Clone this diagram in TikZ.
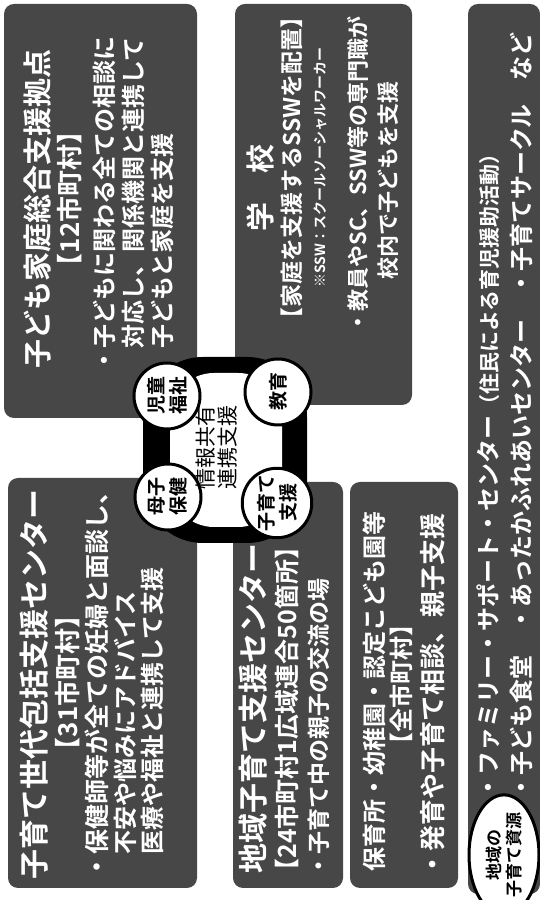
\documentclass[tikz,border=0pt]{standalone}
\usepackage{fontspec}
\usetikzlibrary{shapes.geometric}
\setmainfont{Noto Sans CJK JP}[BoldFont={Noto Sans CJK JP Bold}]
\tikzset{
  panel/.style={fill=black!72, rounded corners=5pt},
  boxtitle/.style={text=white, font=\bfseries\fontsize{14.5}{16}\selectfont, inner sep=0pt},
  boxnote/.style={text=white, font=\bfseries\fontsize{13}{15}\selectfont, inner sep=0pt},
  boxitem/.style={text=white, font=\bfseries\fontsize{12}{14}\selectfont, inner sep=0pt, anchor=west},
  boxsmall/.style={text=white, font=\bfseries\fontsize{7}{8}\selectfont, inner sep=0pt, anchor=west},
  hubcircle/.style={circle, draw=black, line width=1.5pt, fill=white, minimum size=33pt, inner sep=0pt, align=center, font=\bfseries\fontsize{9.5}{11}\selectfont},
}
\begin{document}
\begin{tikzpicture}[x=0.5pt, y=0.5pt, rotate=90, transform shape]
\useasboundingbox (0,0) rectangle (900,-540);
% panels
\path[panel] (12,-8) rectangle (422,-197);
\path[panel] (482,-4) rectangle (896,-197);
\path[panel] (12,-233) rectangle (418,-343);
\path[panel] (495,-235) rectangle (896,-412);
\path[panel] (12,-350) rectangle (418,-458);
\path[panel] (6,-468) rectangle (896,-540);
% maternal health centre
\path (215,-34) node[boxtitle, font=\bfseries\fontsize{15}{17}\selectfont] (titleA) {子育て世代包括支援センター};
\path (217,-68) node[boxnote] (noteA) {【31市町村】};
\path (20,-97) node[boxitem, font=\bfseries\fontsize{12.5}{14}\selectfont] (itemA1) {・保健師等が全ての妊婦と面談し、};
\path (45,-125) node[boxitem] (itemA2) {不安や悩みにアドバイス};
\path (45,-152) node[boxitem] (itemA3) {医療や福祉と連携して支援};
% child and family centre
\path (691,-38) node[boxtitle] (titleB) {子ども家庭総合支援拠点};
\path (701,-70) node[boxnote] (noteB) {【12市町村】};
\path (527,-104) node[boxitem] (itemB1) {・子どもに関わる全ての相談に};
\path (551,-133) node[boxitem] (itemB2) {対応し、関係機関と連携して};
\path (551,-162) node[boxitem] (itemB3) {子どもと家庭を支援};
% local support centre
\path (26,-253) node[boxtitle, anchor=west, font=\bfseries\fontsize{15}{17}\selectfont] (titleD) {地域子育て支援センター};
\path (16,-287) node[boxitem, font=\bfseries\fontsize{12.5}{14}\selectfont] (itemD1) {【24市町村1広域連合50箇所】};
\path (22,-319) node[boxitem, font=\bfseries\fontsize{11.5}{13}\selectfont] (itemD2) {・子育て中の親子の交流の場};
% nursery
\path (28,-374) node[boxitem] (titleE) {保育所・幼稚園・認定こども園等};
\path (215,-401) node[boxnote, font=\bfseries\fontsize{12}{14}\selectfont] (noteE) {【全市町村】};
\path (22,-433) node[boxitem, font=\bfseries\fontsize{13}{15}\selectfont] (itemE1) {・発育や子育て相談、親子支援};
% school
\path (712,-260) node[boxtitle] (titleC) {学　校};
\path (732,-292) node[boxnote, font=\bfseries\fontsize{11.5}{13}\selectfont] (noteC) {【家庭を支援するSSWを配置】};
\path (612,-320) node[boxsmall] (smallC) {※SSW：スクールソーシャルワーカー};
\path (566,-358) node[boxitem, font=\bfseries\fontsize{11}{13}\selectfont] (itemC1) {・教員やSC、SSW等の専門職が};
\path (620,-388) node[boxitem, font=\bfseries\fontsize{11}{13}\selectfont] (itemC2) {校内で子どもを支援};
% local resources
\path (100,-488) node[boxitem] (itemF1) {・ファミリー・サポート・センター{\fontsize{10.5}{12}\selectfont （住民による育児援助活動）}};
\path (100,-521) node[boxitem] (itemF2) {・子ども食堂　・あったかふれあいセンター　・子育てサークル　など};
\node[ellipse, draw=black, line width=1.5pt, fill=white, minimum width=44pt, minimum height=35pt, inner sep=0pt, align=center, font=\bfseries\fontsize{8.5}{10}\selectfont] (resources) at (45,-504) {地域の\\子育て資源};
% hub
\path[fill=black, rounded corners=30pt] (357,-143) rectangle (543,-307);
\path[fill=white, rounded corners=22pt] (373,-170) rectangle (527,-282);
\node[hubcircle] (boshi) at (403,-168) {母子\\保健};
\node[hubcircle] (jido) at (504,-167) {児童\\福祉};
\node[hubcircle] (kosodate) at (397,-277) {子育て\\支援};
\node[hubcircle] (kyoiku) at (508,-278) {教育};
\node[align=center, inner sep=0pt, font=\fontsize{10.5}{11}\selectfont] (share) at (452,-217) {情報共有\\連携支援};
\end{tikzpicture}
\end{document}
